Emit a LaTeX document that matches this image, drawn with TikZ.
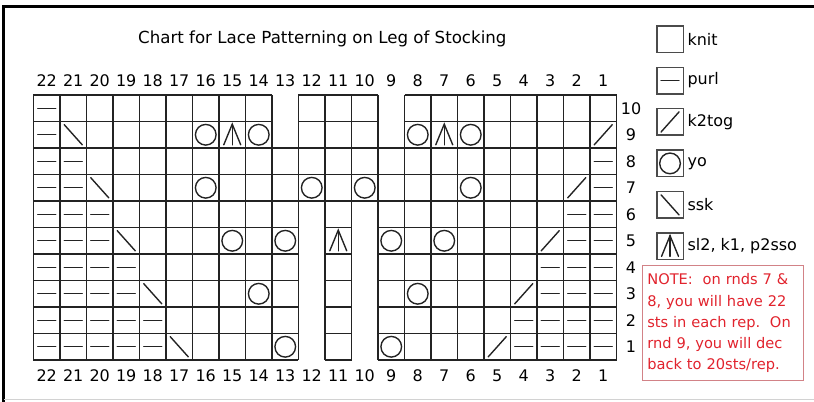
\documentclass[tikz,border=0pt]{standalone}
\usepackage{fontspec}
\setmainfont{DejaVu Sans}
\usetikzlibrary{positioning}
\definecolor{gridgray}{RGB}{35,35,35}
\definecolor{keygray}{RGB}{75,75,75}
\definecolor{notered}{RGB}{225,35,45}
\definecolor{noteline}{RGB}{210,130,135}

\tikzset{
  sym/.style={gridgray, line width=1.05pt, line cap=round},
  purl/.pic={\draw[sym, pic actions] (-0.34,0) -- (0.34,0);},
  ssk/.pic={\draw[sym, pic actions] (-0.34,0.38) -- (0.34,-0.38);},
  ktog/.pic={\draw[sym, pic actions] (-0.34,-0.38) -- (0.34,0.38);},
  yarnover/.pic={\draw[sym, pic actions] (0,0) circle (0.39);},
  sltwo/.pic={\draw[sym, pic actions] (-0.32,-0.38) -- (0,0.4) -- (0.32,-0.38);
              \draw[sym, pic actions] (0,0.4) -- (0,-0.38);}
}

\begin{document}
\begin{tikzpicture}[x=0.7cm, y=0.7cm,
  cell/.style={draw=gridgray, line width=1.1pt},
  num/.style={font=\fontsize{12}{14}\selectfont, inner sep=0pt},
  keybox/.style={draw=keygray, line width=1.1pt, minimum size=0.7cm, inner sep=0pt},
  keylbl/.style={font=\fontsize{12}{14}\selectfont, anchor=west, inner sep=0pt},
  note/.style={draw=noteline, line width=0.7pt, text=notered, align=left,
  text width=4cm, minimum width=4.228cm, minimum height=3.03cm,
  font=\fontsize{11}{16}\selectfont}
]
\useasboundingbox (-1.264,-1.547) rectangle (29.453,13.585);
% frame
\draw[line width=2pt] (-1.12,-1.6) |- (29.5,13.34);
\draw[gray!35, line width=0.6pt] (-1.1,-1.47) -- (29.5,-1.47);

\node[font=\fontsize{12.5}{15}\selectfont] (title) at (10.9,12.13)
  {Chart for Lace Patterning on Leg of Stocking};

% grid (columns 22..1 from left, rows 1..10 from bottom)
\draw[cell, step=1] (0,6) grid (22,8);
\draw[cell, step=1] (0,8) grid (9,10);
\draw[cell, step=1] (10,8) grid (13,10);
\draw[cell, step=1] (14,8) grid (22,10);
\draw[cell, step=1] (0,0) grid (10,6);
\draw[cell, step=1] (11,0) grid (12,6);
\draw[cell, step=1] (13,0) grid (22,6);

\foreach \c in {1,...,22} {
  \node[num] (top\c) at (22.5-\c,10.54) {\c};
  \node[num] (bot\c) at (22.5-\c,-0.6) {\c};
}
\foreach \r in {1,...,10}
  \node[num] (row\r) at (22.55,\r-0.5) {\r};

% stitches
\foreach \c/\r in {22/10,22/9,22/8,21/8,1/8,22/7,21/7,1/7,
    22/5,21/5,20/5,2/5,1/5,22/4,21/4,20/4,19/4,3/4,2/4,1/4,
    22/3,21/3,20/3,19/3,3/3,2/3,1/3,22/2,21/2,20/2,19/2,18/2,4/2,3/2,2/2,1/2,
    22/1,21/1,20/1,19/1,18/1,4/1,3/1,2/1,1/1}
  \pic at (22.5-\c,\r-0.5) {purl};
\foreach \c in {22,21,20,2,1}
  \pic[line width=1.7pt] at (22.5-\c,5.5) {purl};
\foreach \c/\r in {21/9,20/7,19/5,18/3,17/1}
  \pic at (22.5-\c,\r-0.5) {ssk};
\foreach \c/\r in {1/9,2/7,3/5,4/3,5/1}
  \pic at (22.5-\c,\r-0.5) {ktog};
\foreach \c/\r in {16/9,14/9,8/9,6/9,16/7,12/7,10/7,6/7,
    15/5,13/5,9/5,7/5,14/3,8/3,13/1,9/1}
  \pic at (22.5-\c,\r-0.5) {yarnover};
\foreach \c/\r in {15/9,7/9,11/5}
  \pic at (22.5-\c,\r-0.5) {sltwo};

% key
\node[keybox] (kknit) at (24.02,12.11) {};
\node[keybox, below=0.356cm of kknit] (kpurl) {};
\node[keybox, below=0.356cm of kpurl] (kktog) {};
\node[keybox, below=0.356cm of kktog] (kyo) {};
\node[keybox, below=0.356cm of kyo] (kssk) {};
\node[keybox, below=0.356cm of kssk] (ksl) {};
\pic at (kpurl) {purl};
\pic at (kktog) {ktog};
\pic at (kyo) {yarnover};
\pic at (kssk) {ssk};
\pic at (ksl) {sltwo};
\node[keylbl, right=2.5pt of kknit] (lknit) {knit};
\node[keylbl, right=2.5pt of kpurl] (lpurl) {purl};
\node[keylbl, right=2.5pt of kktog] (lktog) {k2tog};
\node[keylbl, right=2.5pt of kyo] (lyo) {yo};
\node[keylbl, right=2.5pt of kssk] (lssk) {ssk};
\node[keylbl, right=2.5pt of ksl] (lsl) {sl2, k1, p2sso};

\node[note] (notebox) at (26.02,1.385) {NOTE:\ \ on rnds 7 \&\\
  8, you will have 22\\
  sts in each rep.\ \ On\\
  rnd 9, you will dec\\
  back to 20sts/rep.};
\end{tikzpicture}
\end{document}
